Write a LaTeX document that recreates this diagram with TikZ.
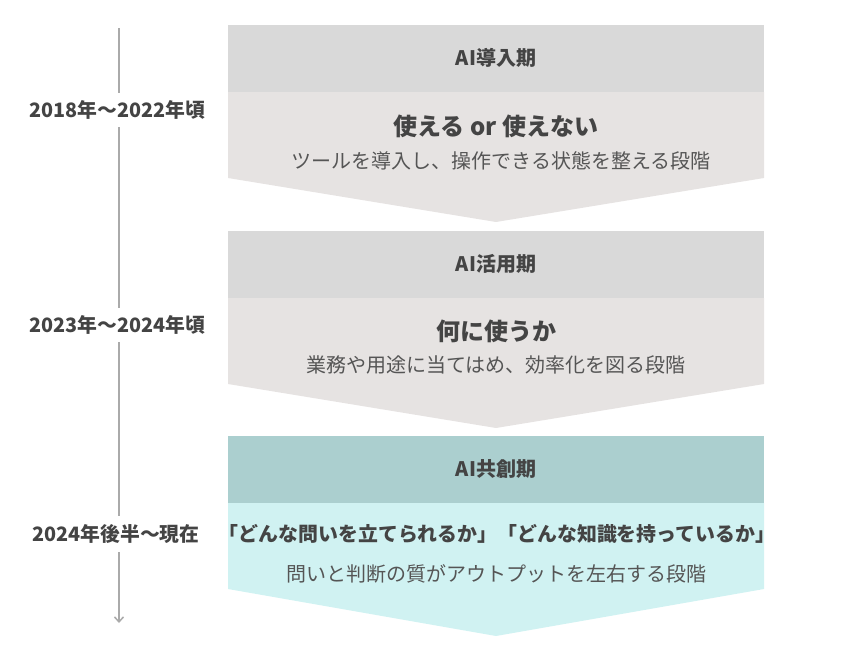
\documentclass[tikz,border=0pt]{standalone}
\usepackage{fontspec}
\setmainfont{Noto Sans CJK JP}
\usetikzlibrary{arrows.meta}

\definecolor{headgray}{HTML}{D9D9D9}
\definecolor{bodygray}{HTML}{E6E3E2}
\definecolor{headteal}{HTML}{ABCFCF}
\definecolor{bodyteal}{HTML}{D0F2F2}
\definecolor{inkdark}{HTML}{444444}
\definecolor{inkmid}{HTML}{555555}
\definecolor{linegray}{HTML}{AAAAAA}

\tikzset{
  headtext/.style={font=\bfseries\fontsize{20}{24}\selectfont, text=inkdark},
  titletext/.style={font=\bfseries\fontsize{24}{28}\selectfont, text=inkdark},
  subtext/.style={font=\fontsize{20}{24}\selectfont, text=inkmid},
  periodtext/.style={font=\bfseries\fontsize{19.8}{24}\selectfont, text=inkdark,
    fill=white, inner xsep=3pt, inner ysep=8pt},
  timeline/.style={draw=linegray, line width=1.5pt},
}

\begin{document}
\begin{tikzpicture}[x=1pt, y=-1pt]
\useasboundingbox (0,0) rectangle (843,646);

% 時間軸 (左)
\coordinate (tltop) at (119,28);
\coordinate (tlend) at (119,623);
\draw[timeline, -{Straight Barb[length=5pt, width=9pt]}] (tltop) -- (tlend);

\node[periodtext] (period1) at (117,110) {2018年〜2022年頃};
\node[periodtext] (period2) at (117,325) {2023年〜2024年頃};
\node[periodtext] (period3) at (116,534) {2024年後半〜現在};

% AI導入期 (上)
\begin{scope}
    \fill[headgray] (228,25) rectangle (764,92);
    \fill[bodygray] (228,92) -- (764,92) -- (764,178) -- (496,222) -- (228,178) -- cycle;
    \node[headtext] (head1) at (496,58) {AI導入期};
    \node[titletext] (title1) at (496,126) {使える or 使えない};
    \node[subtext] (sub1) at (501,161) {ツールを導入し、操作できる状態を整える段階};
\end{scope}

% AI活用期 (中)
\begin{scope}[yshift=-206pt]
    \fill[headgray] (228,25) rectangle (764,92);
    \fill[bodygray] (228,92) -- (764,92) -- (764,178) -- (496,222) -- (228,178) -- cycle;
    \node[headtext] (head2) at (496,58) {AI活用期};
    \node[titletext] (title2) at (496,125) {何に使うか};
    \node[subtext] (sub2) at (496,159) {業務や用途に当てはめ、効率化を図る段階};
\end{scope}

% AI共創期 (下)
\begin{scope}[yshift=-411pt]
    \fill[headteal] (228,25) rectangle (764,92);
    \fill[bodyteal] (228,92) -- (764,92) -- (764,178) -- (496,225) -- (228,178) -- cycle;
    \node[headtext] (head3) at (496,58) {AI共創期};
    \node[titletext, font=\bfseries\fontsize{19.9}{24}\selectfont] (title3) at (497,123)
        {「どんな問いを立てられるか」「どんな知識を持っているか」};
    \node[subtext] (sub3) at (496,163) {問いと判断の質がアウトプットを左右する段階};
\end{scope}

\end{tikzpicture}
\end{document}
